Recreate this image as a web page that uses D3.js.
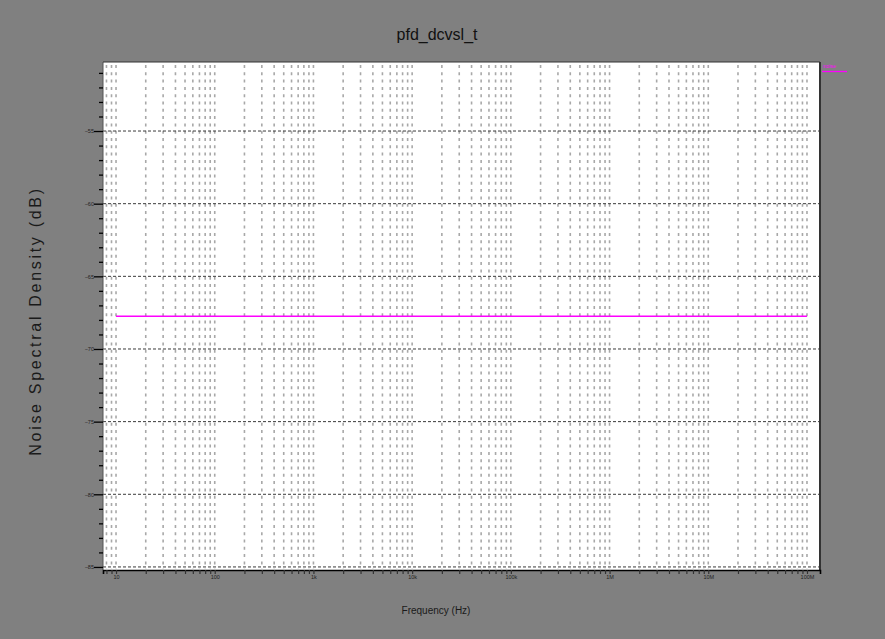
<!DOCTYPE html>
<html>
<head>
<meta charset="utf-8">
<script src="https://cdn.jsdelivr.net/npm/d3@7"></script>
<style>
  html, body { margin: 0; padding: 0; background: #808080; }
  svg { display: block; font-family: "Liberation Sans", Arial, sans-serif; }
</style>
</head>
<body>
<svg id="chart" width="885" height="639"></svg>
<script>
// Output noise of the PFD (dcvsl variant), swept over frequency
const chartTitle = "pfd_dcvsl_t";
const seriesName = "noise";
const freqHz = [10, 100, 1e3, 1e4, 1e5, 1e6, 1e7, 1e8];
const noiseDb = [-67.75, -67.75, -67.75, -67.75, -67.75, -67.75, -67.75, -67.75];
const yMajorTicks = [-55, -60, -65, -70, -75, -80, -85];
const xDecadeTicks = [10, 100, 1e3, 1e4, 1e5, 1e6, 1e7, 1e8];
const xDecadeLabels = ["10", "100", "1k", "10k", "100k", "1M", "10M", "100M"];

(function draw() {
  const svg = d3.select("#chart");
  const pL = 103, pR = 820, pT = 62, pB = 570;

  const x = d3.scaleLog().domain([7.38, 1.355e8]).range([pL, pR]);
  const y = d3.scaleLinear().domain([-50.25, -85.21]).range([pT, pB]);

  // plot area
  svg.append("rect")
    .attr("x", pL).attr("y", pT)
    .attr("width", pR - pL).attr("height", pB - pT)
    .attr("fill", "#ffffff");

  // vertical grid at every 1..9 x decade frequency
  const gridFreqs = x.ticks().filter(f => f >= 8 && f <= 1e8);
  svg.append("g")
    .selectAll("line")
    .data(gridFreqs)
    .join("line")
    .attr("x1", d => x(d)).attr("x2", d => x(d))
    .attr("y1", pT + 3).attr("y2", pB - 1)
    .attr("stroke", "#a8a8a8")
    .attr("stroke-width", 1.6)
    .attr("stroke-dasharray", "3,4.3");

  // horizontal major grid
  svg.append("g")
    .selectAll("line")
    .data(yMajorTicks)
    .join("line")
    .attr("x1", pL).attr("x2", pR)
    .attr("y1", d => y(d)).attr("y2", d => y(d))
    .attr("stroke", "#3a3a3a")
    .attr("stroke-width", 1)
    .attr("stroke-dasharray", "3,2");

  // frame
  svg.append("line").attr("x1", pL).attr("x2", pL).attr("y1", pT).attr("y2", pB)
    .attr("stroke", "#555").attr("stroke-width", 1);
  svg.append("line").attr("x1", pL).attr("x2", pR).attr("y1", pT).attr("y2", pT)
    .attr("stroke", "#333").attr("stroke-width", 1.2);
  svg.append("line").attr("x1", pR).attr("x2", pR).attr("y1", pT).attr("y2", pB)
    .attr("stroke", "#333").attr("stroke-width", 2);

  // y axis: minor ticks every dB, labelled majors
  const yAxis = d3.axisLeft(y)
    .tickValues(d3.range(-85, -50, 1))
    .tickSize(4)
    .tickFormat(d => yMajorTicks.includes(d) ? d3.format("d")(d) : "");
  const gy = svg.append("g").attr("transform", `translate(${pL},0)`).call(yAxis);
  gy.select(".domain").remove();
  gy.selectAll(".tick line").attr("stroke", "#000").attr("stroke-width", 1.3)
    .attr("x2", d => yMajorTicks.includes(d) ? -9 : -4);
  gy.selectAll(".tick text").attr("x", -9).attr("font-size", 5.5).attr("fill", "#222");

  // x axis: ticks below at every grid frequency, decades labelled
  const xAxis = d3.axisBottom(x)
    .tickValues(gridFreqs)
    .tickSize(4)
    .tickFormat(d => {
      const i = xDecadeTicks.indexOf(d);
      return i >= 0 ? xDecadeLabels[i] : "";
    });
  const gx = svg.append("g").attr("transform", `translate(0,${pB})`).call(xAxis);
  gx.select(".domain").attr("stroke", "#000").attr("stroke-width", 1.6);
  gx.selectAll(".tick line").attr("stroke", "#333").attr("stroke-width", 1.2);
  gx.selectAll(".tick text").attr("y", 5).attr("font-size", 5.5).attr("fill", "#222");

  // noise trace
  const line = d3.line().x((d, i) => x(freqHz[i])).y(d => y(d));
  svg.append("path")
    .datum(noiseDb)
    .attr("d", line)
    .attr("fill", "none")
    .attr("stroke", "#ff00ff")
    .attr("stroke-width", 1.6);

  // legend
  svg.append("text")
    .attr("x", 823).attr("y", 68)
    .attr("font-size", 5.5).attr("fill", "#ff00ff")
    .text(seriesName);
  svg.append("line")
    .attr("x1", 822).attr("x2", 847).attr("y1", 71.5).attr("y2", 71.5)
    .attr("stroke", "#ff00ff").attr("stroke-width", 1.3);

  // titles
  svg.append("text")
    .attr("x", 437).attr("y", 40)
    .attr("text-anchor", "middle")
    .attr("font-size", 16).attr("fill", "#111")
    .text(chartTitle);

  svg.append("text")
    .attr("transform", "translate(41,321) rotate(-90)")
    .attr("text-anchor", "middle")
    .attr("font-size", 16)
    .attr("letter-spacing", 2.7)
    .attr("fill", "#1a1a1a")
    .text("Noise Spectral Density (dB)");

  svg.append("text")
    .attr("x", 436).attr("y", 614)
    .attr("text-anchor", "middle")
    .attr("font-size", 10)
    .attr("fill", "#1a1a1a")
    .text("Frequency (Hz)");
})();
</script>
</body>
</html>
